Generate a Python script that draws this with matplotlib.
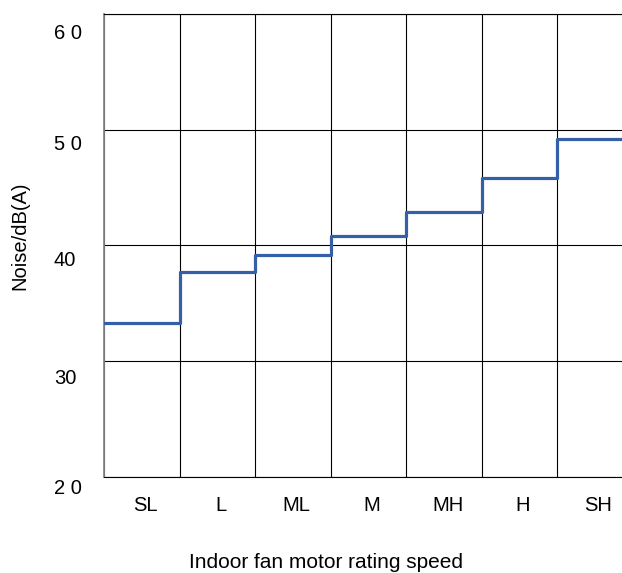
import numpy as np
import matplotlib.pyplot as plt
from matplotlib.transforms import ScaledTranslation

plt.rcParams['font.family'] = ['Liberation Sans', 'DejaVu Sans']

speeds = ['SL', 'L', 'ML', 'M', 'MH', 'H', 'SH']
noise = [33.3, 37.7, 39.2, 40.8, 42.9, 45.8, 49.2]
yticks = [20, 30, 40, 50, 60]
ytick_labels = ['2 0', '30', '40', '5 0', '6 0']


def main():
    fig = plt.figure(figsize=(6.22, 5.73), dpi=100)
    ax = fig.add_axes([104 / 622, 96 / 573, 528.5 / 622, 463 / 573])

    x = np.arange(len(noise) + 1)
    y = noise + [noise[-1]]
    ax.step(x, y, where='post', color='#3560a8', lw=2.3, zorder=3)

    ax.set_xlim(0, len(speeds))
    ax.set_ylim(20, 60)

    # grid
    ax.set_xticks(np.arange(len(speeds) + 1), minor=False)
    ax.set_xticklabels([])
    ax.set_xticks(np.arange(len(speeds)) + 0.55, minor=True)
    ax.set_xticklabels(speeds, minor=True, fontsize=14.5)
    ax.tick_params(axis='x', which='both', length=0)
    ax.tick_params(axis='x', which='minor', pad=14)
    ax.grid(True, which='major', color='black', lw=0.8)

    ax.set_yticks(yticks)
    ax.set_yticklabels(ytick_labels, fontsize=14.5, ha='left')
    ax.tick_params(axis='y', length=0, pad=36)
    # labels sit a bit below their gridlines
    offsets = [9, 15, 13, 13, 18]
    for lab, off in zip(ax.get_yticklabels(), offsets):
        lab.set_transform(lab.get_transform() + ScaledTranslation(0, -off / 100, fig.dpi_scale_trans))

    for side in ['top', 'bottom', 'right']:
        ax.spines[side].set_color('black')
        ax.spines[side].set_linewidth(0.8)
    ax.spines['left'].set_color('#888888')
    ax.spines['left'].set_linewidth(1.3)

    fig.text(20 / 622, 1 - 236 / 573, 'Noise/dB(A)', rotation=90,
             ha='center', va='center', fontsize=14.5)
    fig.text(326 / 622, 1 - 563 / 573, 'Indoor fan motor rating speed',
             ha='center', va='center', fontsize=15)

    fig.savefig('out.png', dpi=100)


if __name__ == '__main__':
    main()
